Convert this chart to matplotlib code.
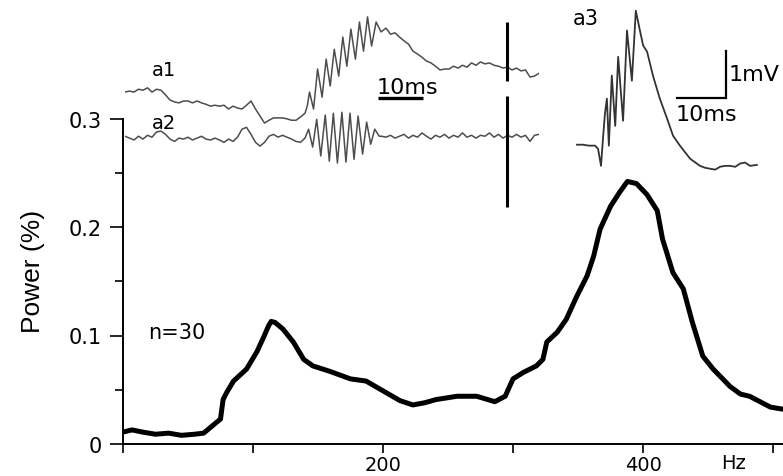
import numpy as np
import matplotlib
matplotlib.use("Agg")
import matplotlib.pyplot as plt

# mean power spectrum (n=30)
freq_hz = [0, 7, 15, 25, 35, 45, 55, 62, 69, 75, 77, 80, 85, 95, 103, 108, 112, 114,
           117, 123, 131, 139, 146, 159, 175, 187, 200, 213, 223, 232, 241, 257, 272,
           286, 294, 300, 308, 318, 323, 326, 334, 341, 349, 357, 362, 367, 375, 382,
           388, 395, 403, 411, 415, 423, 431, 438, 446, 454, 467, 475, 482, 498, 508]
power_pct = [0.011, 0.013, 0.011, 0.009, 0.010, 0.008, 0.009, 0.010, 0.017, 0.023,
             0.041, 0.048, 0.058, 0.069, 0.085, 0.098, 0.109, 0.113, 0.112, 0.106,
             0.094, 0.078, 0.072, 0.067, 0.060, 0.058, 0.049, 0.040, 0.036, 0.038,
             0.041, 0.044, 0.044, 0.039, 0.044, 0.060, 0.066, 0.072, 0.078, 0.094,
             0.103, 0.115, 0.136, 0.155, 0.173, 0.198, 0.219, 0.232, 0.242, 0.240,
             0.230, 0.215, 0.189, 0.158, 0.143, 0.112, 0.081, 0.069, 0.053, 0.046,
             0.044, 0.034, 0.032]

yticks = [0, 0.1, 0.2, 0.3]
ytick_labels = ["0", "0.1", "0.2", "0.3"]
yminor = [0.05, 0.15, 0.25]
xticks = [0, 100, 200, 300, 400, 500]
xtick_labels = ["", "", "200", "", "400", ""]

# example field potentials a1 / a2 (ms, mV)
a1_t = [0, 1, 2, 3, 4, 5, 6, 7, 8, 9, 10, 11, 12, 13, 14, 15, 16, 17, 18, 19, 20,
        21, 22, 23, 24, 25, 26, 27, 28, 29, 30, 31, 32, 33, 34, 35, 36, 37, 38, 39, 40,
        40.5, 41.0, 41.9, 42.8, 43.8, 44.7, 45.6, 46.5, 47.5, 48.4, 49.3, 50.2, 51.2,
        52.1, 53.0, 53.9, 54.8, 55.8, 56.9,
        58, 59, 60, 61, 62, 63, 64, 65, 66, 67, 68, 69, 70, 71, 72, 73, 74, 75, 76,
        77, 78, 79, 80, 81, 82, 83, 84, 85, 86, 87, 88, 89, 90, 91, 92]
a1_mv = [0, 0.02, 0, 0.06, 0.04, 0.09, 0, 0.06, 0.04, -0.06, -0.17, -0.21, -0.23,
         -0.19, -0.19, -0.23, -0.19, -0.23, -0.26, -0.30, -0.28, -0.30, -0.28, -0.36,
         -0.30, -0.34, -0.36, -0.28, -0.19, -0.36, -0.51, -0.66, -0.60, -0.55, -0.55,
         -0.55, -0.57, -0.60, -0.60, -0.53, -0.45,
         -0.30, 0.0, -0.36, 0.49, -0.11, 0.70, 0.13, 0.91, 0.34, 1.17, 0.55, 1.34, 0.70,
         1.49, 0.87, 1.60, 0.98, 1.49, 1.28,
         1.36, 1.23, 1.26, 1.17, 1.09, 1.02, 0.87, 0.81, 0.74, 0.66, 0.62, 0.55, 0.47,
         0.49, 0.49, 0.55, 0.51, 0.57, 0.53, 0.62, 0.57, 0.64, 0.60, 0.62, 0.57, 0.55,
         0.51, 0.53, 0.47, 0.51, 0.45, 0.47, 0.32, 0.34, 0.40]

a2_t = [0, 1, 2, 3, 4, 5, 6, 7, 8, 9, 10, 11, 12, 13, 14, 15, 16, 17, 18, 19, 20,
        21, 22, 23, 24, 25, 26, 27, 28, 29, 30, 31, 32, 33, 34, 35, 36, 37, 38, 39, 40,
        40.8, 41.7, 42.6, 43.5, 44.5, 45.4, 46.3, 47.2, 48.2, 49.1, 50.0, 50.9, 51.8,
        52.8, 53.7, 54.6, 55.5, 56.5,
        57, 58, 59, 60, 61, 62, 63, 64, 65, 66, 67, 68, 69, 70, 71, 72, 73, 74, 75,
        76, 77, 78, 79, 80, 81, 82, 83, 84, 85, 86, 87, 88, 89, 90, 91, 92]
a2_mv = [0.02, -0.02, -0.06, 0.02, -0.04, 0.04, 0, 0.11, 0.13, 0.06, -0.04, -0.09,
         -0.02, -0.04, 0, -0.06, -0.02, 0.02, -0.04, -0.06, -0.02, -0.06, -0.11, -0.04,
         -0.09, 0, 0.17, 0.21, 0.06, -0.11, -0.19, -0.11, 0.02, 0.06, 0, 0.04, 0,
         -0.04, -0.09, -0.11, -0.02,
         0.17, -0.21, 0.38, -0.40, 0.47, -0.51, 0.51, -0.55, 0.53, -0.53, 0.51, -0.47,
         0.45, -0.36, 0.32, -0.15, 0.17, 0.02,
         0.02, 0, 0.04, -0.02, 0.02, 0.06, -0.02, 0.04, 0, 0.09, 0.02, -0.04, 0.04, 0,
         0.06, -0.02, 0.04, 0, 0.09, 0, 0.04, -0.02, 0.04, 0.02, 0.09, 0, 0.06, -0.02,
         0.04, 0, 0.06, 0, 0.04, -0.09, 0.04, 0.06]
a2_offset = -0.96

# stimulus artefact bars on a1 / a2 (time, bottom, top)
bar_t = 84.9
bar_a1 = (0.23, 1.49)
bar_a2 = (-2.45, -0.09)

# example potential a3
a3_t = [0, 1.2, 2.4, 3.7, 4.3, 4.9, 5.3, 5.7, 6.1, 6.5, 7.1, 7.8, 8.4, 9.4, 10.2, 11.2,
        12.0, 12.9, 13.5, 14.3, 15.5, 16.9, 18.4, 19.6, 21.0, 23.1, 25.1, 26.1, 27.1,
        28.2, 29.2, 30.2, 31.2, 32.3, 33.3, 34.3, 35.3, 36.7]
a3_mv = [0, 0, -0.02, -0.02, -0.09, -0.45, 0.13, 0.66, 0.98, -0.02, 1.47, 0.40, 1.87,
         0.51, 2.43, 1.36, 2.85, 2.40, 2.11, 1.98, 1.47, 0.98, 0.55, 0.19, -0.02, -0.30,
         -0.45, -0.49, -0.51, -0.53, -0.47, -0.45, -0.45, -0.47, -0.40, -0.38, -0.45,
         -0.43]

W, H = 783, 477
fig = plt.figure(figsize=(W / 100, H / 100), dpi=100)
plt.rcParams['font.family'] = ['DejaVu Sans']


def px_axes(left, top, xlim, ylim, px_per_x, px_per_y):
    # place an axes from its top-left pixel and its data scale
    w = (xlim[1] - xlim[0]) * px_per_x
    h = (ylim[1] - ylim[0]) * px_per_y
    a = fig.add_axes([left / W, 1 - (top + h) / H, w / W, h / H])
    a.set_xlim(*xlim)
    a.set_ylim(*ylim)
    a.axis('off')
    a.patch.set_alpha(0)
    return a


# main spectrum axes
ax = fig.add_axes([123 / W, 32 / H, 660 / W, 325.5 / H])
ax.plot(freq_hz, power_pct, color='black', lw=3.6, solid_joinstyle='round',
        solid_capstyle='round')
ax.set_xlim(0, 660 / 1.3)
ax.set_ylim(0, 0.3)
ax.spines['top'].set_visible(False)
ax.spines['right'].set_visible(False)
for s in ['left', 'bottom']:
    ax.spines[s].set_linewidth(1.4)
ax.set_yticks(yticks)
ax.set_yticklabels(ytick_labels)
ax.set_yticks(yminor, minor=True)
ax.set_xticks(xticks)
ax.set_xticklabels(xtick_labels)
ax.tick_params(axis='y', which='major', length=9.4, width=1.2, pad=6, labelsize=15)
ax.tick_params(axis='y', which='minor', length=5.8, width=1.2)
ax.tick_params(axis='x', which='major', length=6.5, width=1.2, pad=1.5, labelsize=14)
ax.patch.set_alpha(0)
ax.text(470, -0.0175, "Hz", ha='center', va='center', fontsize=14)
ax.text(19, 0.103, "n=30", ha='left', va='center', fontsize=15)
fig.text(33 / W, 1 - 271 / H, "Power (%)", rotation=90, ha='center', va='center',
         fontsize=19, family=['Liberation Sans', 'DejaVu Sans'])

# a1 / a2 traces
ia = px_axes(125, 0, (0, 92), (-2.6, 1.98), 4.5, 47)
ia.plot(a1_t, a1_mv, color='#4d4d4d', lw=1.1)
ia.plot(a2_t, np.array(a2_mv) + a2_offset, color='#4d4d4d', lw=1.1)
ia.plot([bar_t, bar_t], bar_a1, color='black', lw=2.2, solid_capstyle='butt')
ia.plot([bar_t, bar_t], bar_a2, color='black', lw=2.2, solid_capstyle='butt')
ia.plot([56.2, 66.2], [-0.13, -0.13], color='black', lw=2.4, solid_capstyle='butt')
ia.text(56.0, 0.11, "10ms", ha='left', va='center', fontsize=16)
ia.text(8.7, 0.47, "a1", ha='center', va='center', fontsize=14)
ia.text(8.7, -0.64, "a2", ha='center', va='center', fontsize=14)

# a3 trace with 10 ms / 1 mV scale bar
ib = px_axes(570, 0, (-1.43, 40), (-1.5, 3.1), 4.9, 47)
ib.plot(a3_t, a3_mv, color='#333333', lw=1.3)
ib.plot([20.4, 30.4, 30.4], [1.0, 1.0, 2.0], color='black', lw=1.6,
        solid_joinstyle='miter')
ib.text(31.0, 1.51, "1mV", ha='left', va='center', fontsize=16)
ib.text(20.2, 0.66, "10ms", ha='left', va='center', fontsize=16)
ib.text(-0.9, 2.70, "a3", ha='left', va='center', fontsize=15)

fig.savefig("out.png", dpi=100)
